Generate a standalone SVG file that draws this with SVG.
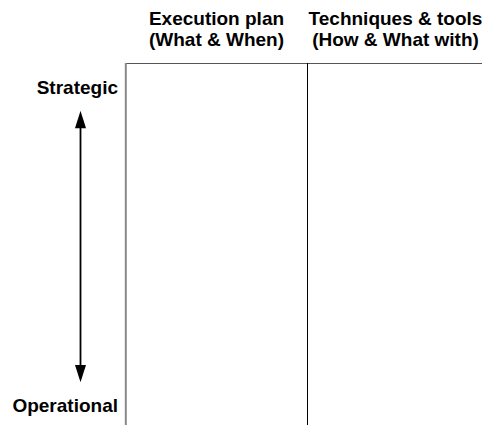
<svg xmlns="http://www.w3.org/2000/svg" width="482" height="425" viewBox="0 0 482 425">
<style>
text{font-family:"Liberation Sans",Arial,sans-serif;font-weight:bold;font-size:19px;fill:#000}
.hdr{text-anchor:middle}
.lbl{text-anchor:end}
</style>
<rect width="482" height="425" fill="#fff"/>
<g id="grid">
<line x1="125" y1="63.5" x2="482" y2="63.5" stroke="#555" stroke-width="1.2"/>
<line x1="125.8" y1="63" x2="125.8" y2="425" stroke="#888" stroke-width="2"/>
<line x1="307.5" y1="63" x2="307.5" y2="425" stroke="#000" stroke-width="1"/>
</g>
<g id="header-execution">
<text class="hdr" x="216.5" y="24.5">Execution plan</text>
<text class="hdr" x="216.5" y="46">(What &amp; When)</text>
</g>
<g id="header-techniques">
<text class="hdr" x="395.5" y="24.5">Techniques &amp; tools</text>
<text class="hdr" x="395.5" y="46">(How &amp; What with)</text>
</g>
<g id="strategic">
<text class="lbl" x="118" y="94">Strategic</text>
</g>
<g id="operational">
<text class="lbl" x="118" y="411.5">Operational</text>
</g>
<g id="connectors">
<line x1="80.5" y1="120" x2="80.5" y2="374" stroke="#000" stroke-width="1.8"/>
<path d="M75,128.3 L80.5,110.7 L86,128.3 Z" fill="#000"/>
<path d="M75,365 L80.5,382.3 L86,365 Z" fill="#000"/>
</g>
</svg>
